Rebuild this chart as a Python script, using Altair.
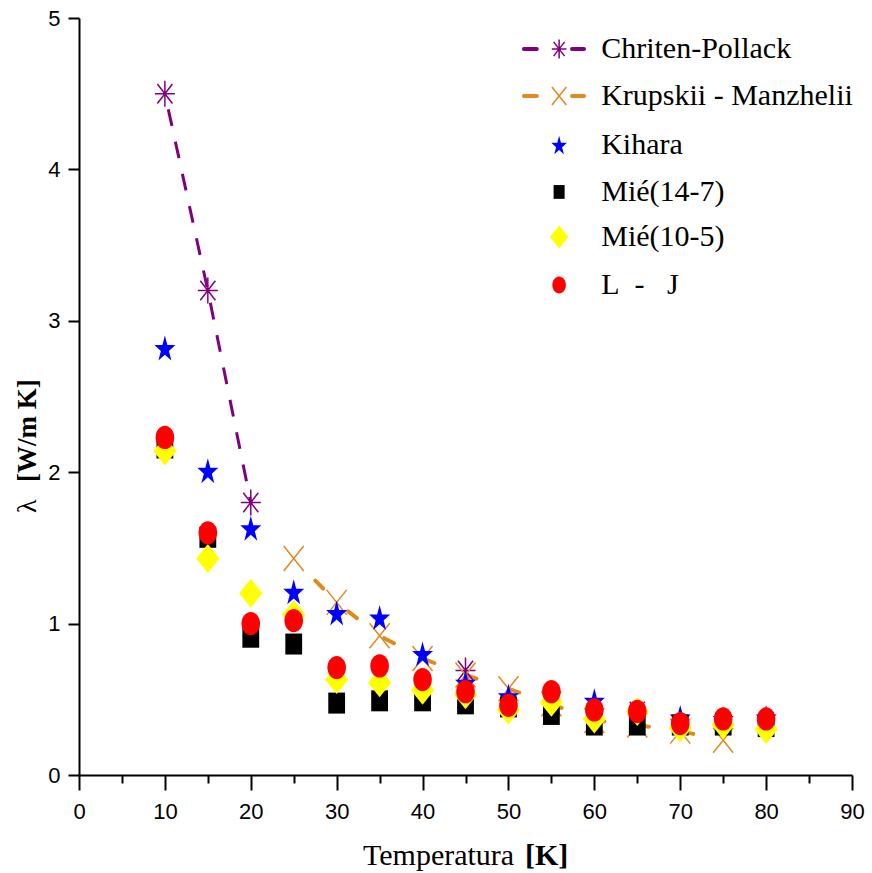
import altair as alt
import pandas as pd

# ---------------- data ----------------
T = [10, 15, 20, 25, 30, 35, 40, 45, 50, 55, 60, 65, 70, 75, 80]

cp_T = [10, 15, 20, 45, 65]
cp_val = [4.50, 3.20, 1.80, 0.69, 0.42]
cp_seg = [1, 1, 1, 2, 3]          # only 10-15-20 are joined by the line

km_T = [25, 30, 35, 40, 45, 50, 55, 60, 65, 70, 75]
km_val = [1.43, 1.14, 0.92, 0.77, 0.66, 0.57, 0.47, 0.36, 0.33, 0.29, 0.23]

kihara = [2.82, 2.01, 1.63, 1.21, 1.07, 1.04, 0.80, 0.61, 0.52, 0.46, 0.49, 0.41, 0.38, 0.37, 0.38]
mie147 = [2.16, 1.57, 0.91, 0.865, 0.475, 0.49, 0.49, 0.47, 0.45, 0.40, 0.33, 0.33, 0.33, 0.33, 0.32]
mie105 = [2.14, 1.43, 1.20, 1.06, 0.63, 0.61, 0.56, 0.53, 0.43, 0.48, 0.37, 0.42, 0.31, 0.33, 0.30]
lj = [2.23, 1.60, 1.00, 1.02, 0.71, 0.72, 0.63, 0.55, 0.46, 0.55, 0.43, 0.42, 0.34, 0.37, 0.37]

series = ["Chriten-Pollack", "Krupskii - Manzhelii", "Kihara", "Mié(14-7)", "Mié(10-5)",
          "L\u00a0\u00a0-\u00a0\u00a0\u00a0J"]

# ---------------- styles ----------------
PURPLE = "#800080"
ORANGE = "#E08A1E"
BLUE = "#0000FF"
BLACK = "#000000"
YELLOW = "#FFFF00"
RED = "#FF0000"

P_ELLIPSE = "M0,-1A0.8,1 0 1,1 0,1A0.8,1 0 1,1 0,-1Z"
P_SQUARE = "M-0.8,-1L0.8,-1L0.8,1L-0.8,1Z"
P_DIAMOND = "M0,-1L0.8,0L0,1L-0.8,0Z"
P_STAR = ("M0,-0.905L0.18,-0.214L0.761,-0.214L0.29,0.213L0.47,0.904L0,0.477"
          "L-0.47,0.904L-0.29,0.213L-0.761,-0.214L-0.18,-0.214Z")
P_ASTER = "M0,-1L0,1M-0.77,0L0.77,0M-0.58,-0.75L0.58,0.75M-0.58,0.75L0.58,-0.75"
P_X = "M-0.8,-1L0.8,1M-0.8,1L0.8,-1"

# name -> (shape, color, filled, plot size, legend size)
STY = {
    series[0]: (P_ASTER, PURPLE, False, 676, 361),
    series[1]: (P_X, ORANGE, False, 625, 324),
    series[2]: (P_STAR, BLUE, True, 762, 420),
    series[3]: (P_SQUARE, BLACK, True, 441, 190),
    series[4]: (P_DIAMOND, YELLOW, True, 841, 529),
    series[5]: (P_ELLIPSE, RED, True, 540, 289),
}

cp_df = pd.DataFrame({"T": cp_T, "v": cp_val, "seg": cp_seg})
km_df = pd.DataFrame({"T": km_T, "v": km_val})
ki_df = pd.DataFrame({"T": T, "v": kihara})
m147_df = pd.DataFrame({"T": T, "v": mie147})
m105_df = pd.DataFrame({"T": T, "v": mie105})
lj_df = pd.DataFrame({"T": T, "v": lj})

x_axis = alt.Axis(
    values=list(range(0, 95, 5)), format="d",
    labelExpr="datum.value % 10 === 0 ? datum.label : ''",
    tickSize={"condition": {"test": "datum.value % 10 === 0", "value": 15}, "value": 8},
    title=None, grid=False, domainColor="black", domainWidth=2,
    tickColor="black", tickWidth=2, labelFont="Liberation Sans", labelFontSize=22,
    labelColor="black", labelPadding=11, labelFlush=False, labelOverlap=False,
)
y_axis = alt.Axis(
    values=[i * 0.5 for i in range(11)], format="d",
    labelExpr="datum.value % 1 === 0 ? datum.label : ''",
    tickSize={"condition": {"test": "datum.value % 1 === 0", "value": 11}, "value": 6},
    title=None, grid=False, domainColor="black", domainWidth=2,
    tickColor="black", tickWidth=2, labelFont="Liberation Sans", labelFontSize=22,
    labelColor="black", labelPadding=8, labelFlush=False, labelOverlap=False,
)
xs = alt.Scale(domain=[0, 90], nice=False, zero=False)
ys = alt.Scale(domain=[0, 5], nice=False, zero=False)


def X(f="T"):
    return alt.X(f"{f}:Q", scale=xs, axis=x_axis)


def Y(f="v"):
    return alt.Y(f"{f}:Q", scale=ys, axis=y_axis)


def points(df, name, legend=False, xf="T", yf="v"):
    shape, color, filled, size, lsize = STY[name]
    if filled:
        m = alt.Chart(df).mark_point(shape=shape, size=lsize if legend else size, filled=True,
                                     fill=color, opacity=1, strokeWidth=0)
    else:
        m = alt.Chart(df).mark_point(shape=shape, size=lsize if legend else size, filled=False,
                                     stroke=color, opacity=1, strokeWidth=1.5)
    return m.encode(x=X(xf), y=Y(yf))


cp_line = alt.Chart(cp_df).mark_line(color=PURPLE, strokeWidth=3, strokeDash=[17, 16],
                                     strokeDashOffset=17).encode(
    x=X(), y=Y(), detail="seg:N", order="T:Q")
km_line = alt.Chart(km_df).mark_line(color=ORANGE, strokeWidth=4, strokeDash=[11, 34],
                                     strokeDashOffset=14, strokeCap="round").encode(
    x=X(), y=Y(), order="T:Q")

layers = [
    cp_line, km_line,
    points(cp_df, series[0]),
    points(km_df, series[1]),
    points(ki_df, series[2]),
    points(m147_df, series[3]),
    points(m105_df, series[4]),
    points(lj_df, series[5]),
]

# ---------------- legend (drawn inside the plot, in data units) ----------------
leg_rows = [4.795, 4.485, 4.161, 3.851, 3.553, 3.237]
leg_sym_x = 55.9
leg_text_x = 60.8
leg_dash = [(51.8, 53.3), (57.4, 58.8)]

for i, name in enumerate(series):
    ldf = pd.DataFrame({"T": [leg_sym_x], "v": [leg_rows[i]], "label": [name]})
    if i < 2:
        color = STY[name][1]
        ddf = pd.DataFrame({"a": [d[0] for d in leg_dash], "b": [d[1] for d in leg_dash],
                            "v": [leg_rows[i]] * 2})
        layers.append(alt.Chart(ddf).mark_rule(color=color, strokeWidth=4, strokeCap="round").encode(
            x=X("a"), x2="b:Q", y=Y()))
    layers.append(points(ldf, name, legend=True))
    tdf = pd.DataFrame({"T": [leg_text_x], "v": [leg_rows[i]], "label": [name]})
    layers.append(alt.Chart(tdf).mark_text(align="left", baseline="middle", font="Liberation Serif",
                                           fontSize=30, color="black").encode(
        x=X(), y=Y(), text="label:N"))

# ---------------- axis titles (mixed regular / bold) ----------------
title_df = pd.DataFrame({"t": [0]})
layers.append(alt.Chart(title_df).mark_text(text="Temperatura", align="left", baseline="alphabetic",
                                            font="Liberation Serif", fontSize=30, color="black").encode(
    x=alt.value(284), y=alt.value(847)))
layers.append(alt.Chart(title_df).mark_text(text="[K]", align="left", baseline="alphabetic",
                                            font="Liberation Serif", fontSize=30, fontWeight="bold",
                                            color="black").encode(
    x=alt.value(446), y=alt.value(847)))
layers.append(alt.Chart(title_df).mark_text(text="λ", align="left", baseline="alphabetic", angle=270,
                                            font="Liberation Serif", fontSize=28, color="black").encode(
    x=alt.value(-43), y=alt.value(495)))
layers.append(alt.Chart(title_df).mark_text(text="[W/m K]", align="left", baseline="alphabetic", angle=270,
                                            font="Liberation Serif", fontSize=27, fontWeight="bold",
                                            color="black").encode(
    x=alt.value(-43), y=alt.value(464)))

chart = alt.layer(*layers).properties(
    width=773, height=757,
    autosize=alt.AutoSizeParams(type="none"),
    padding={"left": 79, "top": 18, "right": 20, "bottom": 98},
    background="white",
).configure_view(stroke=None)

chart.save("out.html", embed_options={"renderer": "svg", "actions": False})
